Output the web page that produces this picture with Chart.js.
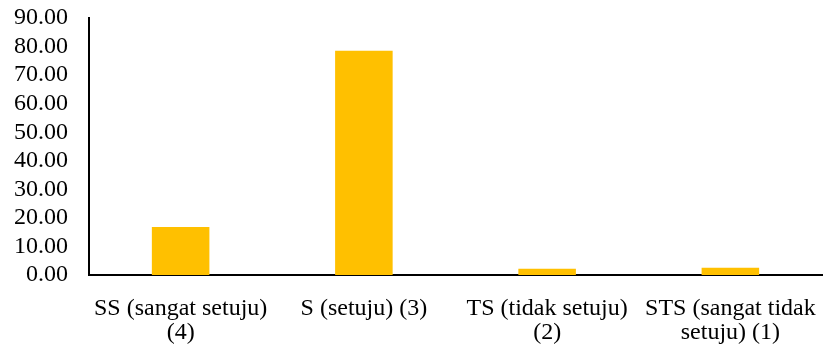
<!DOCTYPE html>
<html>
<head>
<meta charset="utf-8">
<script src="https://cdn.jsdelivr.net/npm/chart.js@4"></script>
<style>
html,body{margin:0;padding:0;background:#fff;}
#wrap{width:824px;height:349px;position:relative;}
</style>
</head>
<body>
<div id="wrap"><canvas id="c" width="824" height="349"></canvas></div>
<script>
const categories = [
  ["SS (sangat setuju)", "(4)"],
  ["S (setuju) (3)"],
  ["TS (tidak setuju)", "(2)"],
  ["STS (sangat tidak", "setuju) (1)"]
];
const values = [16.8, 78.5, 2.2, 2.5];
const yMin = 0, yMax = 90, yStep = 10;

const font = {family: "'Liberation Serif', 'Times New Roman', serif", size: 24, lineHeight: 1.0};

new Chart(document.getElementById('c'), {
  type: 'bar',
  data: {
    labels: categories,
    datasets: [{
      data: values,
      backgroundColor: '#FFC000',
      borderWidth: 0,
      categoryPercentage: 1.0,
      barPercentage: 0.314
    }]
  },
  options: {
    responsive: false,
    animation: false,
    devicePixelRatio: 1,
    layout: {padding: {left: 0, right: 2, top: 18, bottom: 0}},
    plugins: {legend: {display: false}, tooltip: {enabled: false}},
    scales: {
      x: {
        grid: {display: false, drawTicks: false},
        border: {display: true, color: '#000', width: 2},
        ticks: {color: '#000', font: font, padding: 22, maxRotation: 0, autoSkip: false},
        afterFit: s => { s.height = 74; s.paddingLeft = 0; s.paddingRight = 0; }
      },
      y: {
        min: yMin, max: yMax,
        grid: {display: false, drawTicks: false},
        border: {display: true, color: '#000', width: 2},
        ticks: {
          stepSize: yStep, color: '#000', font: font, padding: 21, autoSkip: false,
          callback: v => Number(v).toFixed(2)
        },
        afterFit: s => { s.width = 89; s.paddingTop = 0; s.paddingBottom = 0; }
      }
    }
  }
});
</script>
</body>
</html>
